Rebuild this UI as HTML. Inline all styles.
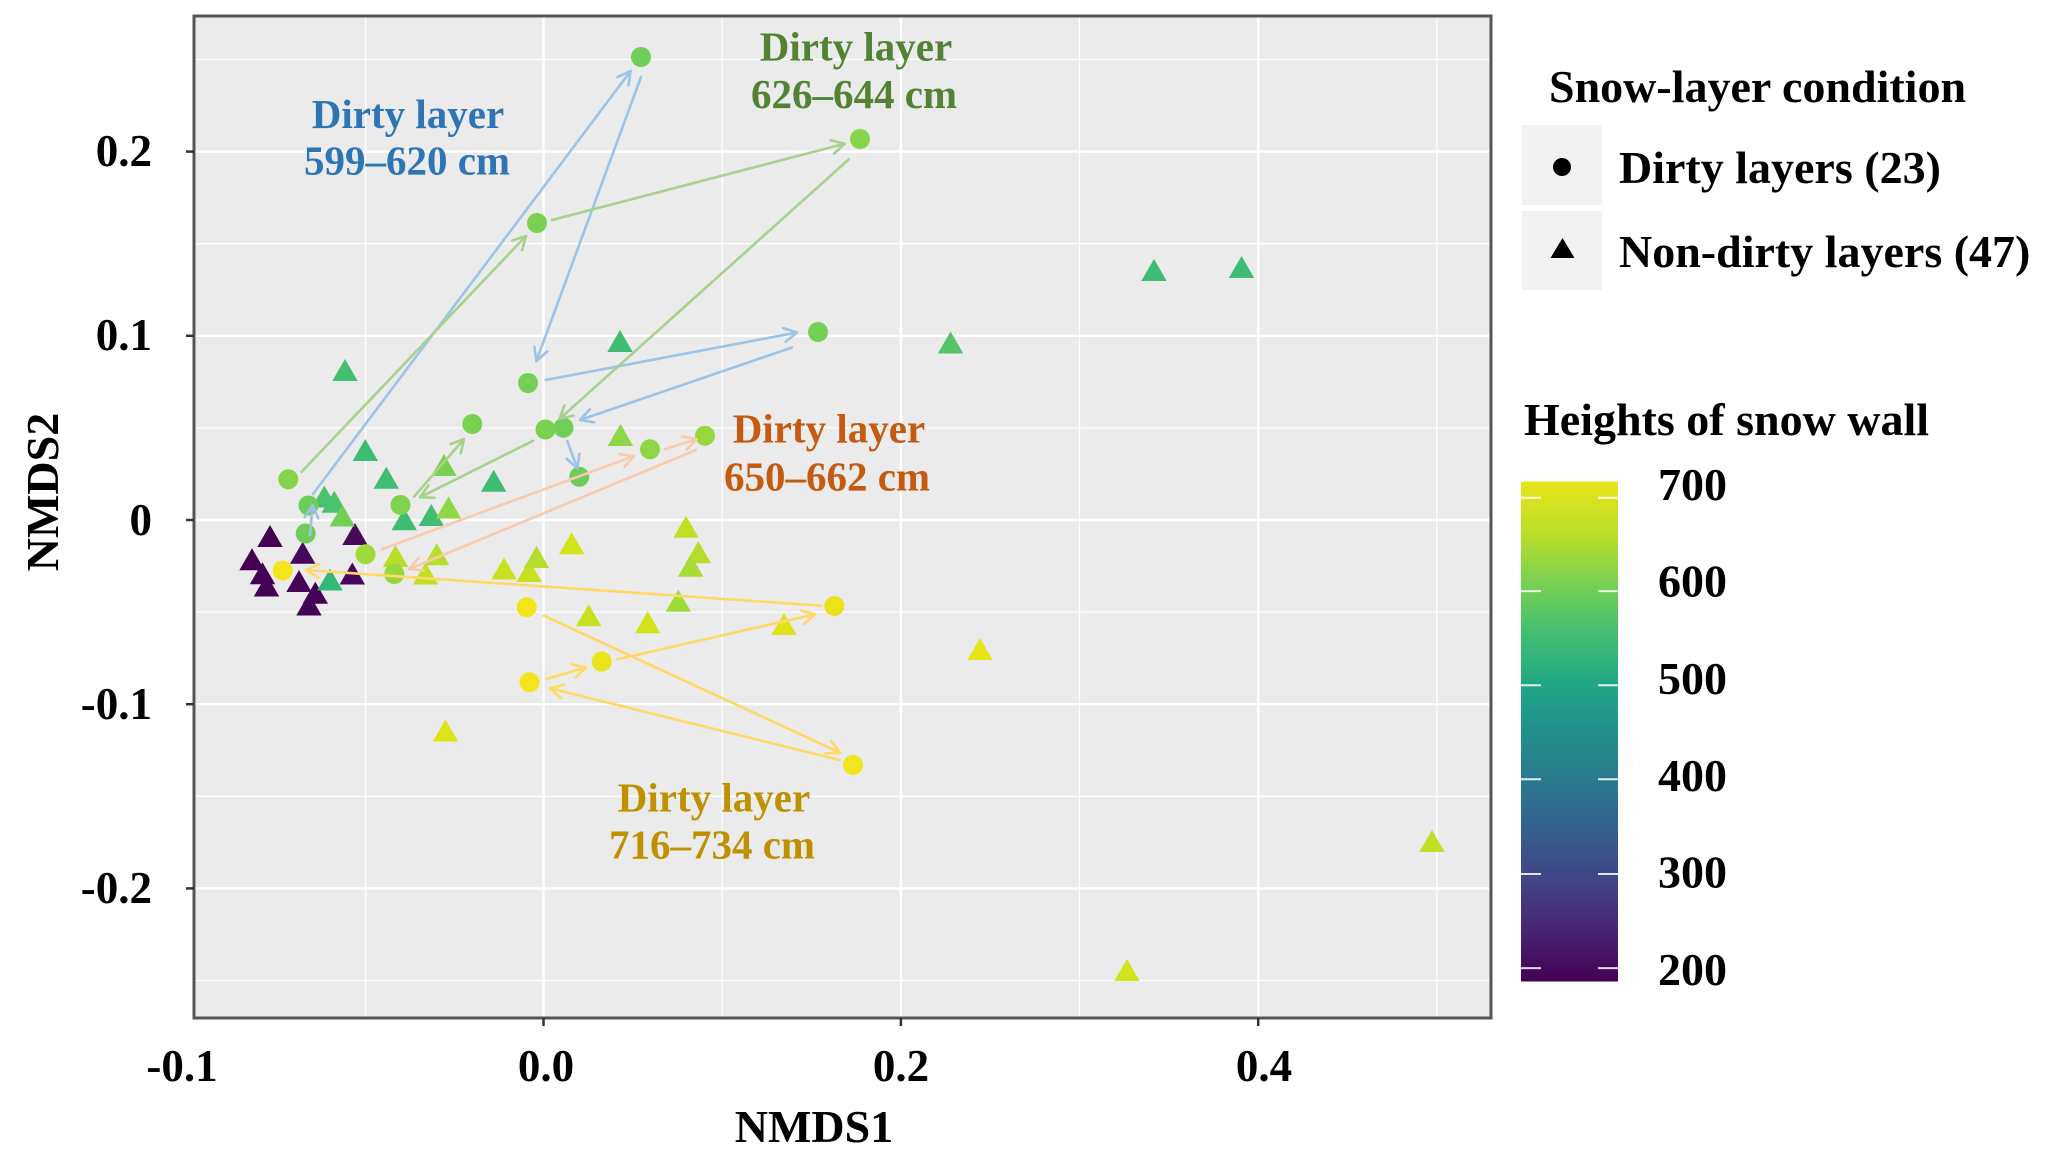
<!DOCTYPE html>
<html>
<head>
<meta charset="utf-8">
<style>
html,body{margin:0;padding:0;background:#ffffff;}
svg{display:block;}
</style>
</head>
<body>
<svg width="2066" height="1161" viewBox="0 0 2066 1161" xmlns="http://www.w3.org/2000/svg" font-family="'Liberation Serif', 'Times New Roman', serif" font-weight="bold">
<defs>
<linearGradient id="vir" x1="0" y1="1" x2="0" y2="0">
<stop offset="0" stop-color="#440154"/>
<stop offset="0.1" stop-color="#482475"/>
<stop offset="0.2" stop-color="#414487"/>
<stop offset="0.3" stop-color="#355F8D"/>
<stop offset="0.4" stop-color="#2A788E"/>
<stop offset="0.5" stop-color="#21918C"/>
<stop offset="0.6" stop-color="#22A884"/>
<stop offset="0.7" stop-color="#44BF70"/>
<stop offset="0.8" stop-color="#7AD151"/>
<stop offset="0.9" stop-color="#BDDF26"/>
<stop offset="1" stop-color="#E6E41C"/>
</linearGradient>
<marker id="mb" markerUnits="userSpaceOnUse" viewBox="0 0 16 16" markerWidth="16" markerHeight="16" refX="14" refY="8" orient="auto"><path d="M1,1 L14,8 L1,15" fill="none" stroke="#9DC3E6" stroke-width="2.6" stroke-linecap="round" stroke-linejoin="round"/></marker>
<marker id="mg" markerUnits="userSpaceOnUse" viewBox="0 0 16 16" markerWidth="16" markerHeight="16" refX="14" refY="8" orient="auto"><path d="M1,1 L14,8 L1,15" fill="none" stroke="#A9D18E" stroke-width="2.6" stroke-linecap="round" stroke-linejoin="round"/></marker>
<marker id="mo" markerUnits="userSpaceOnUse" viewBox="0 0 16 16" markerWidth="16" markerHeight="16" refX="14" refY="8" orient="auto"><path d="M1,1 L14,8 L1,15" fill="none" stroke="#F8CBAD" stroke-width="2.6" stroke-linecap="round" stroke-linejoin="round"/></marker>
<marker id="my" markerUnits="userSpaceOnUse" viewBox="0 0 16 16" markerWidth="16" markerHeight="16" refX="14" refY="8" orient="auto"><path d="M1,1 L14,8 L1,15" fill="none" stroke="#FFD966" stroke-width="2.6" stroke-linecap="round" stroke-linejoin="round"/></marker>
</defs>

<!-- panel -->
<rect x="194" y="16" width="1297" height="1002" fill="#EBEBEB"/>
<g stroke="#FFFFFF">
<g stroke-width="1.3">
<line x1="365.7" y1="16" x2="365.7" y2="1018"/>
<line x1="722.2" y1="16" x2="722.2" y2="1018"/>
<line x1="1079.5" y1="16" x2="1079.5" y2="1018"/>
<line x1="1436.8" y1="16" x2="1436.8" y2="1018"/>
<line x1="194" y1="59.5" x2="1491" y2="59.5"/>
<line x1="194" y1="243.7" x2="1491" y2="243.7"/>
<line x1="194" y1="427.9" x2="1491" y2="427.9"/>
<line x1="194" y1="612.1" x2="1491" y2="612.1"/>
<line x1="194" y1="796.3" x2="1491" y2="796.3"/>
<line x1="194" y1="980.5" x2="1491" y2="980.5"/>
</g>
<g stroke-width="2.4">
<line x1="543.5" y1="16" x2="543.5" y2="1018"/>
<line x1="900.9" y1="16" x2="900.9" y2="1018"/>
<line x1="1258.2" y1="16" x2="1258.2" y2="1018"/>
<line x1="194" y1="151.6" x2="1491" y2="151.6"/>
<line x1="194" y1="335.8" x2="1491" y2="335.8"/>
<line x1="194" y1="520" x2="1491" y2="520"/>
<line x1="194" y1="704.2" x2="1491" y2="704.2"/>
<line x1="194" y1="888.4" x2="1491" y2="888.4"/>
</g>
</g>

<!-- triangles -->
<g>
<polygon points="0,-11 12.7,11 -12.7,11" transform="translate(270,536)" fill="#440154"/>
<polygon points="0,-11 12.7,11 -12.7,11" transform="translate(355,534)" fill="#46095C"/>
<polygon points="0,-11 12.7,11 -12.7,11" transform="translate(252,559.3)" fill="#440154"/>
<polygon points="0,-11 12.7,11 -12.7,11" transform="translate(302.7,552.7)" fill="#46085C"/>
<polygon points="0,-11 12.7,11 -12.7,11" transform="translate(262.5,573.3)" fill="#440154"/>
<polygon points="0,-11 12.7,11 -12.7,11" transform="translate(266.5,585.5)" fill="#440154"/>
<polygon points="0,-11 12.7,11 -12.7,11" transform="translate(299,581)" fill="#450559"/>
<polygon points="0,-11 12.7,11 -12.7,11" transform="translate(315.3,592.7)" fill="#440154"/>
<polygon points="0,-11 12.7,11 -12.7,11" transform="translate(309,604.5)" fill="#440154"/>
<polygon points="0,-11 12.7,11 -12.7,11" transform="translate(352.3,573.5)" fill="#46085C"/>

<polygon points="0,-11 12.7,11 -12.7,11" transform="translate(345,370)" fill="#44BF70"/>
<polygon points="0,-11 12.7,11 -12.7,11" transform="translate(365.3,450)" fill="#3DBC74"/>
<polygon points="0,-11 12.7,11 -12.7,11" transform="translate(386.3,477.7)" fill="#40BD72"/>
<polygon points="0,-11 12.7,11 -12.7,11" transform="translate(493.7,480.7)" fill="#3FBC73"/>
<polygon points="0,-11 12.7,11 -12.7,11" transform="translate(324.3,496.5)" fill="#4AC16D"/>
<polygon points="0,-11 12.7,11 -12.7,11" transform="translate(334.3,501.7)" fill="#4AC16D"/>
<polygon points="0,-11 12.7,11 -12.7,11" transform="translate(342.3,515.5)" fill="#6FCF57"/>
<polygon points="0,-11 12.7,11 -12.7,11" transform="translate(404.2,519.2)" fill="#3FBC73"/>
<polygon points="0,-11 12.7,11 -12.7,11" transform="translate(431.3,515)" fill="#40BD72"/>
<polygon points="0,-11 12.7,11 -12.7,11" transform="translate(330,579.5)" fill="#35B779"/>
<polygon points="0,-11 12.7,11 -12.7,11" transform="translate(620,341)" fill="#3FBC73"/>
<polygon points="0,-11 12.7,11 -12.7,11" transform="translate(950.6,342.5)" fill="#55C667"/>
<polygon points="0,-11 12.7,11 -12.7,11" transform="translate(1154,270)" fill="#3FBC73"/>
<polygon points="0,-11 12.7,11 -12.7,11" transform="translate(1241.5,267)" fill="#3FBC73"/>

<polygon points="0,-11 12.7,11 -12.7,11" transform="translate(444,465)" fill="#7AD151"/>
<polygon points="0,-11 12.7,11 -12.7,11" transform="translate(448.5,507.5)" fill="#8FD744"/>
<polygon points="0,-11 12.7,11 -12.7,11" transform="translate(620.5,435)" fill="#8ED645"/>
<polygon points="0,-11 12.7,11 -12.7,11" transform="translate(686,526.7)" fill="#C2DF23"/>
<polygon points="0,-11 12.7,11 -12.7,11" transform="translate(698.3,552.3)" fill="#B5DE2B"/>
<polygon points="0,-11 12.7,11 -12.7,11" transform="translate(690.7,565.7)" fill="#A8DB34"/>
<polygon points="0,-11 12.7,11 -12.7,11" transform="translate(678.3,600.7)" fill="#A0DA39"/>
<polygon points="0,-11 12.7,11 -12.7,11" transform="translate(395.5,556)" fill="#B8DE29"/>
<polygon points="0,-11 12.7,11 -12.7,11" transform="translate(436.7,554.2)" fill="#B8DE29"/>
<polygon points="0,-11 12.7,11 -12.7,11" transform="translate(425.5,573.5)" fill="#C2DF23"/>
<polygon points="0,-11 12.7,11 -12.7,11" transform="translate(504,568.5)" fill="#C8E020"/>
<polygon points="0,-11 12.7,11 -12.7,11" transform="translate(529.2,571)" fill="#C8E020"/>
<polygon points="0,-11 12.7,11 -12.7,11" transform="translate(536.5,557)" fill="#B5DE2B"/>
<polygon points="0,-11 12.7,11 -12.7,11" transform="translate(571.7,543.3)" fill="#D2E21B"/>
<polygon points="0,-11 12.7,11 -12.7,11" transform="translate(588.7,615.3)" fill="#C8E020"/>
<polygon points="0,-11 12.7,11 -12.7,11" transform="translate(647.7,622.3)" fill="#D2E21B"/>
<polygon points="0,-11 12.7,11 -12.7,11" transform="translate(784,624)" fill="#DDE318"/>
<polygon points="0,-11 12.7,11 -12.7,11" transform="translate(980,649)" fill="#E5E419"/>
<polygon points="0,-11 12.7,11 -12.7,11" transform="translate(445.5,730.5)" fill="#DDE318"/>
<polygon points="0,-11 12.7,11 -12.7,11" transform="translate(1127,970)" fill="#D2E21B"/>
<polygon points="0,-11 12.7,11 -12.7,11" transform="translate(1432,841)" fill="#C2DF23"/>
</g>

<!-- circles -->
<g>
<circle cx="305.7" cy="533.5" r="10" fill="#6DCD59"/>
<circle cx="308.5" cy="505.5" r="10" fill="#6DCD59"/>
<circle cx="641" cy="57" r="10" fill="#6ECE58"/>
<circle cx="528" cy="383" r="10" fill="#74D055"/>
<circle cx="818" cy="332" r="10" fill="#74D055"/>
<circle cx="563.5" cy="427.7" r="10" fill="#70CF57"/>
<circle cx="579.3" cy="476.7" r="10" fill="#6DCD59"/>

<circle cx="288.3" cy="479.3" r="10" fill="#84D44B"/>
<circle cx="537" cy="223" r="10" fill="#7AD151"/>
<circle cx="860" cy="139" r="10" fill="#86D549"/>
<circle cx="545.5" cy="429.5" r="10" fill="#7AD151"/>
<circle cx="400.5" cy="505" r="10" fill="#7FD34E"/>
<circle cx="472.3" cy="424" r="10" fill="#7AD151"/>

<circle cx="365.5" cy="554.2" r="10" fill="#9FDA3A"/>
<circle cx="650" cy="449.3" r="10" fill="#8ED645"/>
<circle cx="705" cy="435.7" r="10" fill="#97D83F"/>
<circle cx="394.3" cy="574" r="10" fill="#97D83F"/>

<circle cx="526.7" cy="607.3" r="10" fill="#F1E51D"/>
<circle cx="853" cy="765" r="10" fill="#F1E51D"/>
<circle cx="529.5" cy="682.3" r="10" fill="#F1E51D"/>
<circle cx="601.7" cy="661.5" r="10" fill="#E8E419"/>
<circle cx="834.3" cy="606" r="10" fill="#E8E419"/>
<circle cx="282.7" cy="570.5" r="10" fill="#F4E61E"/>
</g>

<!-- arrows -->
<g fill="none" stroke-width="2.6" stroke-linecap="round">
<g stroke="#9DC3E6" marker-end="url(#mb)">
<line x1="310" y1="535" x2="312.5" y2="505"/>
<line x1="313" y1="494" x2="630.6" y2="71"/>
<line x1="641" y1="77" x2="536.4" y2="361"/>
<line x1="545.7" y1="380" x2="797" y2="332.5"/>
<line x1="792" y1="347.5" x2="580" y2="420"/>
<line x1="567.3" y1="441" x2="577.3" y2="468.3"/>
</g>
<g stroke="#A9D18E" marker-end="url(#mg)">
<line x1="301.7" y1="471.7" x2="526" y2="236"/>
<line x1="552" y1="220" x2="844.7" y2="143.7"/>
<line x1="848.8" y1="159.4" x2="559.5" y2="419"/>
<line x1="533.3" y1="440.7" x2="420" y2="497.3"/>
<line x1="414" y1="496.7" x2="464" y2="439"/>
</g>
<g stroke="#F8CBAD" marker-end="url(#mo)">
<line x1="381.7" y1="549.3" x2="634" y2="456"/>
<line x1="665" y1="449" x2="696.7" y2="439.3"/>
<line x1="696" y1="450" x2="409.3" y2="569"/>
</g>
<g stroke="#FFD966" marker-end="url(#my)">
<line x1="544" y1="615.7" x2="840" y2="752.7"/>
<line x1="839.3" y1="760" x2="550" y2="688.3"/>
<line x1="546.7" y1="679" x2="586" y2="667.3"/>
<line x1="617.3" y1="659.3" x2="815" y2="614.3"/>
<line x1="821.7" y1="605.7" x2="306" y2="570"/>
</g>
</g>

<!-- annotations -->
<g font-size="41" text-anchor="middle">
<text x="408" y="128" fill="#2E75B6">Dirty layer</text>
<text x="407" y="174.5" fill="#2E75B6">599–620 cm</text>
<text x="856" y="60.5" fill="#548235">Dirty layer</text>
<text x="854" y="108" fill="#548235">626–644 cm</text>
<text x="829" y="442.7" fill="#C55A11">Dirty layer</text>
<text x="827" y="490.7" fill="#C55A11">650–662 cm</text>
<text x="714" y="811.7" fill="#BF9000">Dirty layer</text>
<text x="712" y="858.3" fill="#BF9000">716–734 cm</text>
</g>

<!-- panel border -->
<rect x="194" y="16" width="1297" height="1002" fill="none" stroke="#555555" stroke-width="3"/>

<!-- ticks -->
<g stroke="#333333" stroke-width="2.5">
<line x1="186" y1="151.6" x2="194" y2="151.6"/>
<line x1="186" y1="335.8" x2="194" y2="335.8"/>
<line x1="186" y1="520" x2="194" y2="520"/>
<line x1="186" y1="704.2" x2="194" y2="704.2"/>
<line x1="186" y1="888.4" x2="194" y2="888.4"/>
<line x1="543.5" y1="1018" x2="543.5" y2="1026"/>
<line x1="900.9" y1="1018" x2="900.9" y2="1026"/>
<line x1="1258.2" y1="1018" x2="1258.2" y2="1026"/>
</g>

<!-- tick labels -->
<g font-size="45" fill="#000000">
<g text-anchor="end">
<text x="152" y="166">0.2</text>
<text x="152" y="350">0.1</text>
<text x="152" y="535">0</text>
<text x="152" y="719">-0.1</text>
<text x="152" y="903">-0.2</text>
</g>
<g text-anchor="middle">
<text x="182" y="1081">-0.1</text>
<text x="546" y="1081">0.0</text>
<text x="901" y="1081">0.2</text>
<text x="1264" y="1081">0.4</text>
</g>
</g>

<!-- axis titles -->
<text x="814" y="1142" font-size="46" text-anchor="middle" fill="#000000">NMDS1</text>
<text transform="translate(58,492) rotate(-90)" font-size="46" text-anchor="middle" fill="#000000">NMDS2</text>

<!-- legend: shape -->
<text x="1549" y="102" font-size="46" fill="#000000">Snow-layer condition</text>
<rect x="1522" y="125" width="80" height="80" fill="#F2F2F2"/>
<rect x="1522" y="211" width="80" height="79" fill="#F2F2F2"/>
<circle cx="1562" cy="167" r="9" fill="#000000"/>
<polygon points="0,-10 12,10 -12,10" transform="translate(1562.5,248)" fill="#000000"/>
<text x="1619" y="183" font-size="46" fill="#000000">Dirty layers (23)</text>
<text x="1619" y="267" font-size="46" fill="#000000">Non-dirty layers (47)</text>

<!-- legend: colour -->
<text x="1524" y="435" font-size="46" fill="#000000">Heights of snow wall</text>
<rect x="1521" y="481.5" width="97" height="500" fill="url(#vir)"/>
<g stroke="#FFFFFF" stroke-width="2" opacity="0.85">
<line x1="1521" y1="497.8" x2="1541" y2="497.8"/><line x1="1598" y1="497.8" x2="1618" y2="497.8"/>
<line x1="1521" y1="591.1" x2="1541" y2="591.1"/><line x1="1598" y1="591.1" x2="1618" y2="591.1"/>
<line x1="1521" y1="685.2" x2="1541" y2="685.2"/><line x1="1598" y1="685.2" x2="1618" y2="685.2"/>
<line x1="1521" y1="779.3" x2="1541" y2="779.3"/><line x1="1598" y1="779.3" x2="1618" y2="779.3"/>
<line x1="1521" y1="874" x2="1541" y2="874"/><line x1="1598" y1="874" x2="1618" y2="874"/>
<line x1="1521" y1="968.1" x2="1541" y2="968.1"/><line x1="1598" y1="968.1" x2="1618" y2="968.1"/>
</g>
<g font-size="46" fill="#000000">
<text x="1658" y="500">700</text>
<text x="1658" y="596.5">600</text>
<text x="1658" y="694">500</text>
<text x="1658" y="791">400</text>
<text x="1658" y="887.5">300</text>
<text x="1658" y="985">200</text>
</g>
</svg>
</body>
</html>
